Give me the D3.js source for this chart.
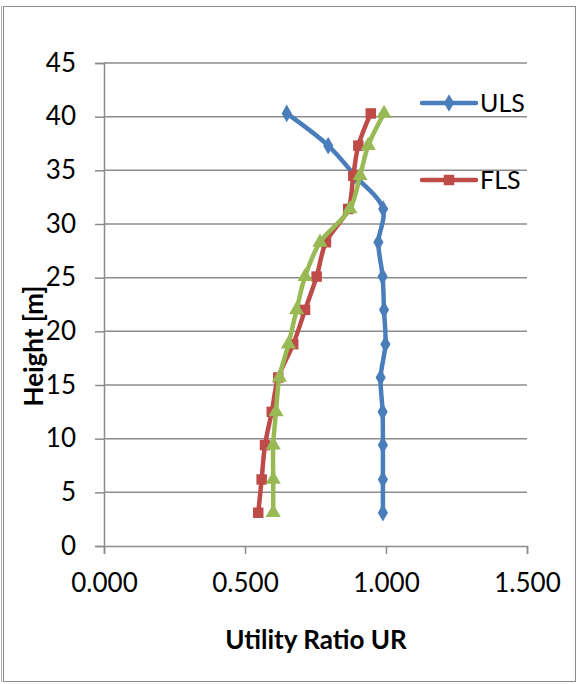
<!DOCTYPE html>
<html>
<head>
<meta charset="utf-8">
<script src="https://cdn.jsdelivr.net/npm/d3@7"></script>
<style>
  html, body { margin: 0; padding: 0; background: #fff; }
  svg { display: block; }
  text { font-family: Lato, "Open Sans", sans-serif; fill: #000; }
</style>
</head>
<body>
<svg id="chart" width="580" height="684"></svg>
<script>
// Height along the tower [m] for each evaluated section
const heights = [3.1, 6.2, 9.4, 12.5, 15.7, 18.8, 22.0, 25.1, 28.3, 31.4, 34.5, 37.3, 40.3];
// Utility ratios per limit state
const ulsValues = [0.989, 0.989, 0.989, 0.988, 0.981, 0.998, 0.993, 0.988, 0.973, 0.990, 0.890, 0.795, 0.648];
const flsValues = [0.547, 0.559, 0.571, 0.595, 0.618, 0.671, 0.713, 0.754, 0.787, 0.866, 0.884, 0.902, 0.946];
const thirdValues = [0.600, 0.600, 0.600, 0.610, 0.622, 0.654, 0.683, 0.713, 0.766, 0.872, 0.908, 0.937, 0.993];
const xTicks = [0, 0.5, 1.0, 1.5];
const yTicks = [0, 5, 10, 15, 20, 25, 30, 35, 40, 45];
const legendNames = ["ULS", "FLS"];

const svg = d3.select("#chart");

// outer chart frame
svg.append("rect").attr("x", 3.5).attr("y", 6.5).attr("width", 572).attr("height", 675)
  .attr("fill", "none").attr("stroke", "#8c8c8c").attr("stroke-width", 1);
svg.append("line").attr("x1", 1.5).attr("x2", 1.5).attr("y1", 6).attr("y2", 682)
  .attr("stroke", "#b0b0b0").attr("stroke-width", 1);

const x = d3.scaleLinear().domain([0, 1.5]).range([104, 527]);
const y = d3.scaleLinear().domain([0, 45]).range([546, 63]);

const gridColor = "#8c8c8c";

// horizontal gridlines
svg.append("g").selectAll("line").data(yTicks.filter(d => d > 0)).join("line")
  .attr("x1", x(0)).attr("x2", x(1.5))
  .attr("y1", d => y(d)).attr("y2", d => y(d))
  .attr("stroke", gridColor).attr("stroke-width", 1.5);

// y axis
const yAxis = svg.append("g").attr("transform", `translate(${x(0)},0)`)
  .call(d3.axisLeft(y).tickValues(yTicks).tickSize(9).tickPadding(19).tickFormat(d3.format("d")));
yAxis.select(".domain").attr("stroke", gridColor).attr("stroke-width", 1.5);
yAxis.selectAll(".tick line").attr("stroke", gridColor).attr("stroke-width", 1.5);
yAxis.selectAll("text").style("font-size", "26px").style("font-family", "Lato, sans-serif").attr("fill", "#000");

// x axis
const xAxis = svg.append("g").attr("transform", `translate(0,${y(0)})`)
  .call(d3.axisBottom(x).tickValues(xTicks).tickSize(8).tickPadding(20).tickFormat(d3.format(".3f")));
xAxis.select(".domain").attr("stroke", gridColor).attr("stroke-width", 1.5);
xAxis.selectAll(".tick line").attr("stroke", gridColor).attr("stroke-width", 1.5);
xAxis.selectAll("text").style("font-size", "26px").style("font-family", "Lato, sans-serif").attr("fill", "#000");

// axis titles
svg.append("text").attr("x", 316).attr("y", 649).attr("text-anchor", "middle")
  .style("font-size", "26px").style("font-weight", "bold").text("Utility Ratio UR");
svg.append("text").attr("transform", "translate(43,346) rotate(-90)").attr("text-anchor", "middle")
  .style("font-size", "26px").style("font-weight", "bold").text("Height [m]");

const series = [
  { name: "ULS", values: ulsValues, color: "#4a7ebb", marker: d3.symbolDiamond, size: 90 },
  { name: "FLS", values: flsValues, color: "#be4b48", marker: d3.symbolSquare, size: 110 },
  { name: "", values: thirdValues, color: "#98b954", marker: d3.symbolTriangle, size: 100 }
];

const line = d3.line().curve(d3.curveCatmullRom.alpha(0.5))
  .x(d => x(d[0])).y(d => y(d[1]));

series.forEach(s => {
  const pts = s.values.map((v, i) => [v, heights[i]]);
  const g = svg.append("g");
  g.append("path").datum(pts).attr("d", line)
    .attr("fill", "none").attr("stroke", s.color).attr("stroke-width", 4.5)
    .attr("stroke-linejoin", "round").attr("stroke-linecap", "round");
  g.selectAll("path.mk").data(pts).join("path").attr("class", "mk")
    .attr("transform", d => `translate(${x(d[0])},${y(d[1])})`)
    .attr("d", d3.symbol().type(s.marker).size(s.size))
    .attr("fill", s.color);
});

// legend
const legendY = [103, 180];
legendNames.forEach((name, i) => {
  const s = series[i];
  const g = svg.append("g").attr("transform", `translate(0,${legendY[i]})`);
  g.append("line").attr("x1", 422).attr("x2", 476).attr("y1", 0).attr("y2", 0)
    .attr("stroke", s.color).attr("stroke-width", 4.5).attr("stroke-linecap", "round");
  g.append("path").attr("transform", "translate(449,0)")
    .attr("d", d3.symbol().type(s.marker).size(s.size)).attr("fill", s.color);
  g.append("text").attr("x", 480).attr("y", 0).attr("dy", "0.35em")
    .style("font-size", "25px").text(name);
});
</script>
</body>
</html>
